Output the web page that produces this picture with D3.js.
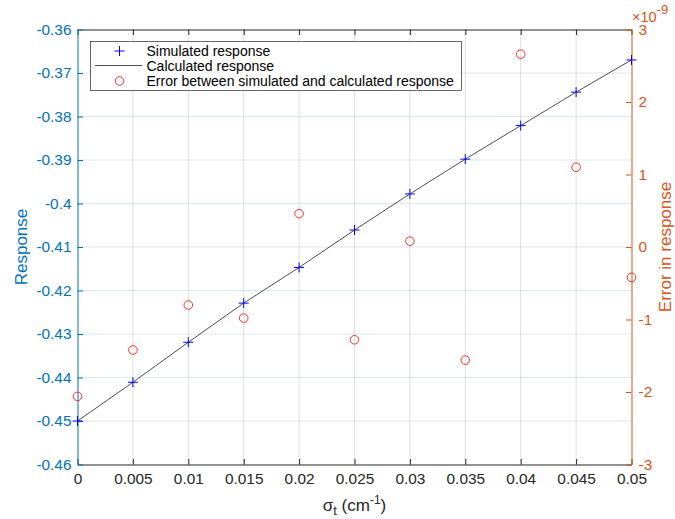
<!DOCTYPE html>
<html>
<head>
<meta charset="utf-8">
<script src="https://cdn.jsdelivr.net/npm/d3@7"></script>
<style>
  html, body { margin: 0; padding: 0; background: #fff; }
  svg text { font-family: "Liberation Sans", Arial, Helvetica, sans-serif; }
</style>
</head>
<body>
<svg id="chart" width="675" height="519"></svg>
<script>
// Total cross-section values (cm^-1)
const sigma = [0, 0.005, 0.01, 0.015, 0.02, 0.025, 0.03, 0.035, 0.04, 0.045, 0.05];
// Simulated detector response at each sigma
const simulated = [-0.4500, -0.4411, -0.4319, -0.4229, -0.4147, -0.4061, -0.3978, -0.3898, -0.3821, -0.3744, -0.3670];
// Calculated (analytic) response at each sigma
const calculated = [-0.4500, -0.4411, -0.4319, -0.4229, -0.4147, -0.4061, -0.3978, -0.3898, -0.3821, -0.3744, -0.3670];
// Difference between simulated and calculated response
const errorVals = [-2.06e-9, -1.42e-9, -0.80e-9, -0.98e-9, 0.46e-9, -1.28e-9, 0.08e-9, -1.56e-9, 2.66e-9, 1.10e-9, -0.42e-9];

const xTicks = [0, 0.005, 0.01, 0.015, 0.02, 0.025, 0.03, 0.035, 0.04, 0.045, 0.05];
const yLeftTicks = [-0.46, -0.45, -0.44, -0.43, -0.42, -0.41, -0.40, -0.39, -0.38, -0.37, -0.36];
const yRightTicks = [-3e-9, -2e-9, -1e-9, 0, 1e-9, 2e-9, 3e-9];

const legendLabels = ["Simulated response", "Calculated response", "Error between simulated and calculated response"];

const BLUE = "#0072BD", ORANGE = "#D95319", DARK = "#262626";

const svg = d3.select("#chart");
const L = 77.5, R = 631.5, T = 29.5, B = 464.5;

const x = d3.scaleLinear().domain([0, 0.05]).range([L, R]);
const yL = d3.scaleLinear().domain([-0.46, -0.36]).range([B, T]);
const yR = d3.scaleLinear().domain([-3e-9, 3e-9]).range([B, T]);

// grid
const grid = svg.append("g");
grid.selectAll("line.gx").data(xTicks.slice(1, -1)).join("line")
  .attr("x1", d => x(d)).attr("x2", d => x(d)).attr("y1", T).attr("y2", B)
  .attr("stroke", DARK).attr("stroke-opacity", 0.15).attr("stroke-width", 1);
grid.selectAll("line.gy").data(yLeftTicks.slice(1, -1)).join("line")
  .attr("x1", L).attr("x2", R).attr("y1", d => yL(d)).attr("y2", d => yL(d))
  .attr("stroke", BLUE).attr("stroke-opacity", 0.15).attr("stroke-width", 1);

// axes (ticks drawn inward)
const fmtX = d => String(+d.toFixed(3));
const fmtL = d => String(+d.toFixed(2));
const fmtR = d => String(Math.round(d / 1e-9));

const axBottom = svg.append("g").attr("transform", `translate(0,${B})`)
  .call(d3.axisBottom(x).tickValues(xTicks).tickFormat(fmtX).tickSizeInner(-5.5).tickSizeOuter(0).tickPadding(9));
axBottom.select(".domain").attr("stroke", DARK);
axBottom.selectAll(".tick line").attr("stroke", DARK);
axBottom.selectAll("text").attr("fill", DARK).attr("font-size", 15.4);

const axTop = svg.append("g").attr("transform", `translate(0,${T})`)
  .call(d3.axisTop(x).tickValues(xTicks).tickFormat("").tickSizeInner(-5.5).tickSizeOuter(0));
axTop.select(".domain").attr("stroke", DARK);
axTop.selectAll(".tick line").attr("stroke", DARK);

const axLeft = svg.append("g").attr("transform", `translate(${L},0)`)
  .call(d3.axisLeft(yL).tickValues(yLeftTicks).tickFormat(fmtL).tickSizeInner(-5.5).tickSizeOuter(0).tickPadding(6));
axLeft.select(".domain").attr("stroke", BLUE);
axLeft.selectAll(".tick line").attr("stroke", BLUE);
axLeft.selectAll("text").attr("fill", BLUE).attr("font-size", 15.4);

const axRight = svg.append("g").attr("transform", `translate(${R},0)`)
  .call(d3.axisRight(yR).tickValues(yRightTicks).tickFormat(fmtR).tickSizeInner(-5.5).tickSizeOuter(0).tickPadding(7));
axRight.select(".domain").attr("stroke", ORANGE);
axRight.selectAll(".tick line").attr("stroke", ORANGE);
axRight.selectAll("text").attr("fill", ORANGE).attr("font-size", 15.4);

// exponent label on the right axis
const expo = svg.append("text").attr("x", 632).attr("y", 21.5).attr("fill", ORANGE).attr("font-size", 14.5);
expo.append("tspan").text("\u00d7");
expo.append("tspan").text("10");
expo.append("tspan").text("-9").attr("font-size", 13).attr("dy", -8);

// axis titles
svg.append("text").attr("transform", "translate(27,247) rotate(-90)")
  .attr("text-anchor", "middle").attr("fill", BLUE).attr("font-size", 17).text("Response");
svg.append("text").attr("transform", "translate(671,247) rotate(-90)")
  .attr("text-anchor", "middle").attr("fill", ORANGE).attr("font-size", 17).text("Error in response");

const xl = svg.append("text").attr("x", (L + R) / 2).attr("y", 511)
  .attr("text-anchor", "middle").attr("fill", DARK).attr("font-size", 17);
xl.append("tspan").text("\u03c3");
xl.append("tspan").text("t").attr("font-size", 13).attr("dy", 4);
xl.append("tspan").text(" (cm").attr("dy", -4);
xl.append("tspan").text("-1").attr("font-size", 12).attr("dy", -7);
xl.append("tspan").text(")").attr("dy", 7);

// calculated response line
svg.append("path").datum(sigma.map((s, i) => [s, calculated[i]]))
  .attr("d", d3.line().x(d => x(d[0])).y(d => yL(d[1])))
  .attr("fill", "none").attr("stroke", "#000").attr("stroke-width", 0.7);

// simulated response markers (+)
svg.append("g").selectAll("path").data(sigma.map((s, i) => [s, simulated[i]])).join("path")
  .attr("d", d => `M${x(d[0]) - 5},${yL(d[1])}H${x(d[0]) + 5}M${x(d[0])},${yL(d[1]) - 5}V${yL(d[1]) + 5}`)
  .attr("stroke", "#0000FF").attr("stroke-width", 1).attr("fill", "none");

// error markers (o)
svg.append("g").selectAll("circle").data(sigma.map((s, i) => [s, errorVals[i]])).join("circle")
  .attr("cx", d => x(d[0])).attr("cy", d => yR(d[1])).attr("r", 4.3)
  .attr("fill", "none").attr("stroke", "#FF0000").attr("stroke-width", 0.8);

// legend
const lg = svg.append("g");
lg.append("rect").attr("x", 90.5).attr("y", 41.5).attr("width", 371).attr("height", 49)
  .attr("fill", "#fff").attr("stroke", DARK).attr("stroke-width", 0.7);
const rows = [51, 65.5, 81];
lg.append("path").attr("d", `M114.5,${rows[0]}H124.5M119.5,${rows[0] - 5}V${rows[0] + 5}`)
  .attr("stroke", "#0000FF").attr("stroke-width", 1).attr("fill", "none");
lg.append("line").attr("x1", 95).attr("x2", 142).attr("y1", rows[1]).attr("y2", rows[1])
  .attr("stroke", "#000").attr("stroke-width", 0.7);
lg.append("circle").attr("cx", 119.5).attr("cy", rows[2]).attr("r", 4.3)
  .attr("fill", "none").attr("stroke", "#FF0000").attr("stroke-width", 0.8);
lg.selectAll("text").data(legendLabels).join("text")
  .attr("x", 146.5).attr("y", (d, i) => rows[i] + 5)
  .attr("font-size", 14).attr("fill", "#000").text(d => d);
</script>
</body>
</html>
